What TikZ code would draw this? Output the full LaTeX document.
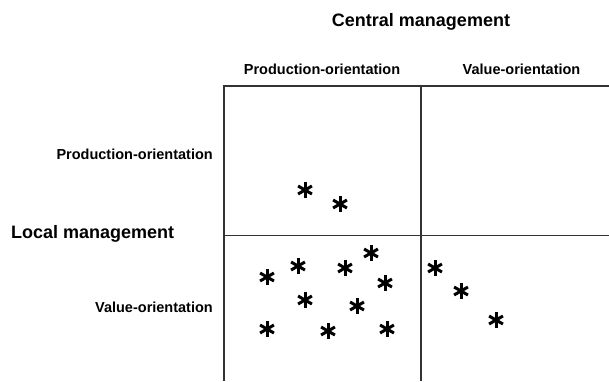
\documentclass[tikz,border=0pt]{standalone}
\usepackage{fontspec}
\setmainfont{Liberation Sans}
\usepackage{tikz}

\begin{document}
\begin{tikzpicture}[x=1pt,y=-1pt,
	grid/.style={draw=black!80, line width=1.5pt},
	head/.style={font=\bfseries\fontsize{18}{20}\selectfont},
	sub/.style={font=\bfseries\fontsize{14.5}{16}\selectfont},
	spot/.style={line width=3pt}]
	\useasboundingbox (0,0) rectangle (609,381);
	\pgfmathsetmacro{\colx}{421}
	\pgfmathsetmacro{\rowy}{235.5}
	% the grid
	\draw[grid] (224,381) -- (224,86) -- (609,86);
	\draw[grid] (\colx,86) -- (\colx,381);
	\draw[grid] (224,\rowy) -- (609,\rowy);
	% headings
	\node[head, anchor=base] (central) at (421,26) {Central management};
	\node[head, anchor=base west, inner sep=0pt] (local) at (11,238) {Local management};
	\node[sub, anchor=base] (colprod) at (322,74) {Production-orientation};
	\node[sub, anchor=base] (colvalue) at (521.5,74) {Value-orientation};
	\node[sub, anchor=base east, inner sep=0pt] (rowprod) at (213,159) {Production-orientation};
	\node[sub, anchor=base east, inner sep=0pt] (rowvalue) at (213,312.5) {Value-orientation};
	% the cases
	\foreach \x/\y in {305/190, 340/204, 267/277, 298/266, 345/268, 371/253, 385/283, 305/300,
		357/306, 267/329, 328/331, 387/329, 435/268, 461/291, 496/320}
		\foreach \a in {90,30,150}
			\draw[spot] (\x,\y) ++(\a:8) -- ++(\a+180:16);
\end{tikzpicture}
\end{document}
